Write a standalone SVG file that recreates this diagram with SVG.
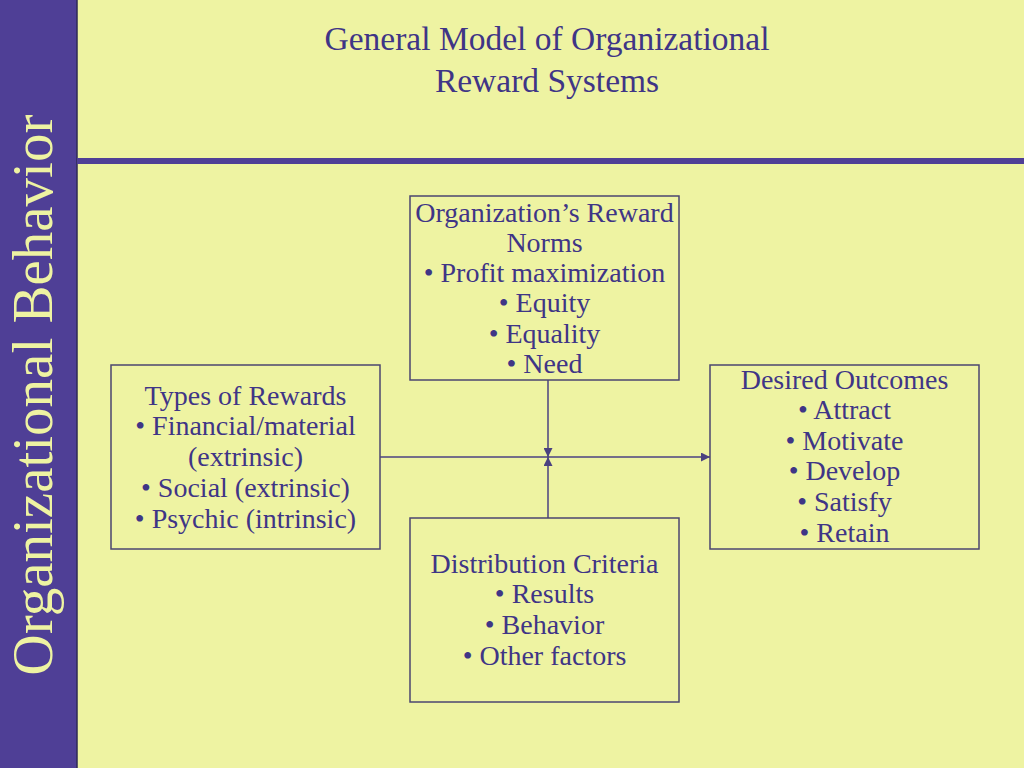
<svg xmlns="http://www.w3.org/2000/svg" width="1024" height="768" viewBox="0 0 1024 768">
<defs>
<style>
.t{font-family:"Liberation Serif","Times New Roman",serif;fill:#3F3586;text-anchor:middle}
.b{font-size:28px}
.box{fill:none;stroke:#4B4670;stroke-width:1.5}
.ln{stroke:#4B4280;stroke-width:1.5;fill:none}
</style>
<marker id="ah" viewBox="0 0 10 10" refX="10" refY="5" markerWidth="9" markerHeight="9" markerUnits="userSpaceOnUse" orient="auto">
<path d="M0,0 L10,5 L0,10 Z" fill="#4B4280"/>
</marker>
</defs>
<rect x="0" y="0" width="1024" height="768" fill="#EEF3A2"/>
<rect x="0" y="0" width="77" height="768" fill="#4F3F96"/>
<line x1="77" y1="0" x2="77" y2="768" stroke="#2E2A55" stroke-width="1.5"/>
<rect x="77" y="158" width="947" height="6" fill="#4F3F96"/>
<text transform="translate(52,395) rotate(-90)" font-family="Liberation Serif,serif" font-size="57" fill="#EEF3A2" text-anchor="middle">Organizational Behavior</text>
<g id="title">
<text class="t" x="547" y="50" font-size="33.5">General Model of Organizational</text>
<text class="t" x="547" y="92" font-size="33.5">Reward Systems</text>
</g>
<g id="connectors">
<line class="ln" x1="380" y1="457" x2="710" y2="457" marker-end="url(#ah)"/>
<line class="ln" x1="548" y1="380" x2="548" y2="457" marker-end="url(#ah)"/>
<line class="ln" x1="548" y1="518" x2="548" y2="457" marker-end="url(#ah)"/>
</g>
<g id="norms">
<rect class="box" x="410" y="196" width="269" height="184"/>
<text class="t b" x="544.5" y="222">Organization’s Reward</text>
<text class="t b" x="544.5" y="252">Norms</text>
<text class="t b" x="544.5" y="282">• Profit maximization</text>
<text class="t b" x="544.5" y="312">• Equity</text>
<text class="t b" x="544.5" y="343">• Equality</text>
<text class="t b" x="544.5" y="373">• Need</text>
</g>
<g id="types">
<rect class="box" x="111" y="365" width="269" height="184"/>
<text class="t b" x="245.5" y="405">Types of Rewards</text>
<text class="t b" x="245.5" y="435">• Financial/material</text>
<text class="t b" x="245.5" y="466">(extrinsic)</text>
<text class="t b" x="245.5" y="497">• Social (extrinsic)</text>
<text class="t b" x="245.5" y="528">• Psychic (intrinsic)</text>
</g>
<g id="outcomes">
<rect class="box" x="710" y="365" width="269" height="184"/>
<text class="t b" x="844.5" y="389">Desired Outcomes</text>
<text class="t b" x="844.5" y="419">• Attract</text>
<text class="t b" x="844.5" y="450">• Motivate</text>
<text class="t b" x="844.5" y="480">• Develop</text>
<text class="t b" x="844.5" y="511">• Satisfy</text>
<text class="t b" x="844.5" y="542">• Retain</text>
</g>
<g id="criteria">
<rect class="box" x="410" y="518" width="269" height="184"/>
<text class="t b" x="544.5" y="573">Distribution Criteria</text>
<text class="t b" x="544.5" y="603">• Results</text>
<text class="t b" x="544.5" y="634">• Behavior</text>
<text class="t b" x="544.5" y="665">• Other factors</text>
</g>
</svg>
